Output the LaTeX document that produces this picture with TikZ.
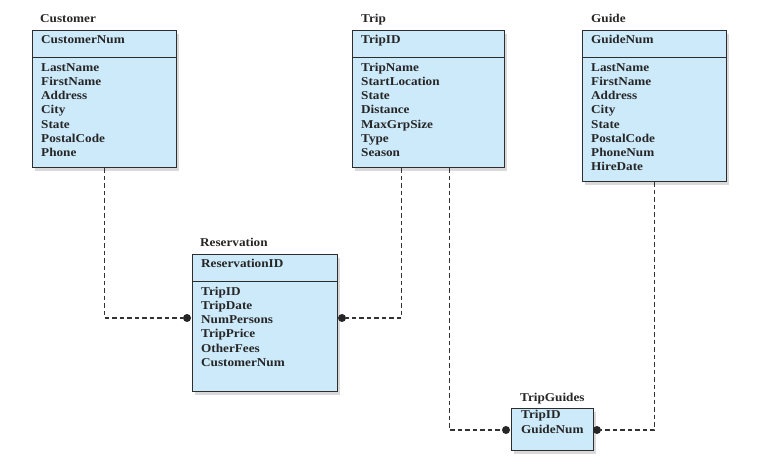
\documentclass[tikz,border=0pt]{standalone}
\usepackage{fontspec}
\setmainfont{Liberation Serif}[FakeStretch=1.1]
\usepackage{tikz}
\usetikzlibrary{positioning,shadows}
\definecolor{boxblue}{RGB}{204,234,250}
\definecolor{edgegray}{RGB}{45,45,45}

\begin{document}
\begin{tikzpicture}[x=1pt, y=-1pt,
  font=\fontsize{12}{14}\selectfont\bfseries,
  entity/.style={draw=edgegray, line width=1.1pt, fill=boxblue, anchor=north west, inner sep=0pt,
    drop shadow={opacity=0.3, shadow xshift=2.5pt, shadow yshift=-3.5pt}},
  lbl/.style={anchor=base west, inner sep=0pt, text=black!85},
  divider/.style={draw=edgegray, line width=0.9pt},
  dot/.style={circle, fill=black!85, inner sep=0pt, minimum size=8pt},
  conn/.style={dash pattern=on 4.5pt off 3pt, line width=1.2pt, draw=black!80}
]
\useasboundingbox (0,0) rectangle (781,474);

% Customer
\node[entity, minimum width=144pt, minimum height=137pt] (cust) at (32,30) {};
\draw[divider] ([yshift=-27pt]cust.north west) -- ([yshift=-27pt]cust.north east);
\node[lbl] (custT) at (40,22) {Customer};
\node[lbl] (custK) at (41,43) {CustomerNum};
\foreach \f [count=\i] in {LastName,FirstName,Address,City,State,PostalCode,Phone}
  \node[lbl] (cust-\i) at (41,{57+14.2*\i}) {\f};

% Trip
\node[entity, minimum width=152pt, minimum height=137pt] (trip) at (352,30) {};
\draw[divider] ([yshift=-27pt]trip.north west) -- ([yshift=-27pt]trip.north east);
\node[lbl] (tripT) at (361,22) {Trip};
\node[lbl] (tripK) at (361,43) {TripID};
\foreach \f [count=\i] in {TripName,StartLocation,State,Distance,MaxGrpSize,Type,Season}
  \node[lbl] (trip-\i) at (361,{57+14.2*\i}) {\f};

% Guide
\node[entity, minimum width=144pt, minimum height=151pt] (guide) at (582,30) {};
\draw[divider] ([yshift=-27pt]guide.north west) -- ([yshift=-27pt]guide.north east);
\node[lbl] (guideT) at (591,22) {Guide};
\node[lbl] (guideK) at (591,43) {GuideNum};
\foreach \f [count=\i] in {LastName,FirstName,Address,City,State,PostalCode,PhoneNum,HireDate}
  \node[lbl] (guide-\i) at (591,{57+14.2*\i}) {\f};

% Reservation
\node[entity, minimum width=145pt, minimum height=137pt] (resv) at (192,254) {};
\draw[divider] ([yshift=-27pt]resv.north west) -- ([yshift=-27pt]resv.north east);
\node[lbl] (resvT) at (200,246) {Reservation};
\node[lbl] (resvK) at (201,267) {ReservationID};
\foreach \f [count=\i] in {TripID,TripDate,NumPersons,TripPrice,OtherFees,CustomerNum}
  \node[lbl] (resv-\i) at (201,{281+14.2*\i}) {\f};

% TripGuides
\node[entity, minimum width=82pt, minimum height=42pt] (tg) at (511,408) {};
\node[lbl] (tgT) at (520,401) {TripGuides};
\node[lbl] (tg-1) at (521,418) {TripID};
\node[lbl] (tg-2) at (521,433) {GuideNum};

% relationship ends
\node[dot] (d1) at (187,318) {};
\node[dot] (d2) at (342,318) {};
\node[dot] (d3) at (506,430) {};
\node[dot] (d4) at (597,430) {};

\draw[conn] (cust.south) |- (d1);
\draw[conn] ([xshift=-27pt]trip.south) |- (d2);
\draw[conn] ([xshift=21pt]trip.south) |- (d3);
\draw[conn] (guide.south) |- (d4);
\end{tikzpicture}
\end{document}
